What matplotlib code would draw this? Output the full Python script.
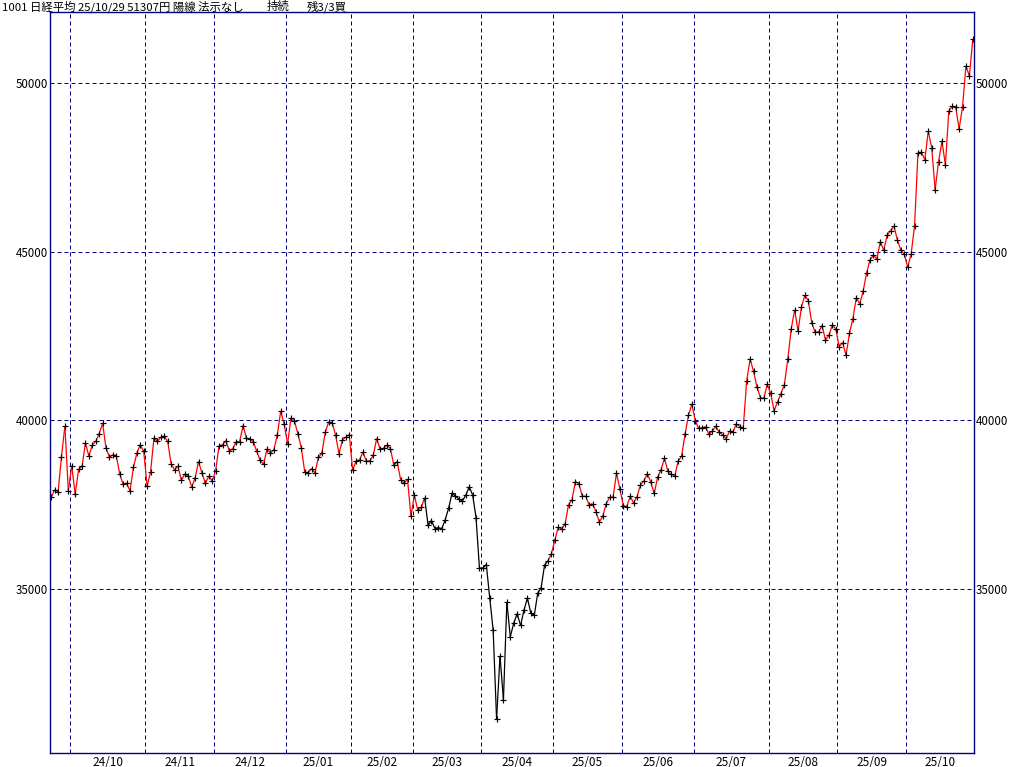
import numpy as np
import pandas as pd
import matplotlib
matplotlib.use("Agg")
import matplotlib.pyplot as plt
from matplotlib.collections import LineCollection

plt.rcParams['font.family'] = ['Noto Sans CJK JP', 'DejaVu Sans']

# ---- data: Nikkei 225 daily closes (trading days) ----
days_2024_09 = [20, 24, 25, 26, 27, 30]
close_2024_09 = [37724, 37940, 37870, 38926, 39830, 37920]
days_2024_10 = [1, 2, 3, 4, 7, 8, 9, 10, 11, 15, 16, 17, 18, 21, 22, 23, 24, 25, 28, 29, 30, 31]
close_2024_10 = [38652, 37809, 38552, 38636, 39333, 38938, 39278, 39381, 39606, 39911, 39181,
                 38911, 38982, 38955, 38412, 38105, 38143, 37914, 38606, 39028, 39277, 39081]
days_2024_11 = [1, 5, 6, 7, 8, 11, 12, 13, 14, 15, 18, 19, 20, 21, 22, 25, 26, 27, 28, 29]
close_2024_11 = [38054, 38475, 39481, 39382, 39501, 39534, 39377, 38722, 38536, 38643,
                 38221, 38415, 38353, 38027, 38284, 38781, 38443, 38135, 38350, 38208]
days_2024_12 = [2, 3, 4, 5, 6, 9, 10, 11, 12, 13, 16, 17, 18, 19, 20, 23, 24, 25, 26, 27, 30]
close_2024_12 = [38514, 39249, 39277, 39396, 39092, 39161, 39368, 39373, 39850, 39471, 39458,
                 39365, 39082, 38814, 38702, 39161, 39037, 39131, 39569, 40282, 39895]
days_2025_01 = [6, 7, 8, 9, 10, 14, 15, 16, 17, 20, 21, 22, 23, 24, 27, 28, 29, 30, 31]
close_2025_01 = [39308, 40084, 39982, 39606, 39191, 38475, 38445, 38573, 38452, 38903,
                 39028, 39647, 39959, 39932, 39566, 39017, 39415, 39514, 39573]
days_2025_02 = [3, 4, 5, 6, 7, 10, 12, 13, 14, 17, 18, 19, 20, 21, 25, 26, 27, 28]
close_2025_02 = [38521, 38799, 38832, 39067, 38787, 38801, 38964, 39462, 39150,
                 39175, 39270, 39165, 38679, 38777, 38238, 38143, 38256, 37156]
days_2025_03 = [3, 4, 5, 6, 7, 10, 11, 12, 13, 14, 17, 18, 19, 21, 24, 25, 26, 27, 28, 31]
close_2025_03 = [37786, 37332, 37418, 37705, 36887, 37028, 36793, 36820, 36790, 37053,
                 37397, 37846, 37752, 37678, 37608, 37780, 38028, 37800, 37120, 35618]
days_2025_04 = [1, 2, 3, 4, 7, 8, 9, 10, 11, 14, 15, 16, 17, 18, 21, 22, 23, 24, 25, 28, 30]
close_2025_04 = [35625, 35726, 34736, 33781, 31137, 33013, 31715, 34609, 33586, 33983, 34268,
                 33920, 34377, 34730, 34280, 34221, 34869, 35040, 35706, 35840, 36045]
days_2025_05 = [1, 2, 7, 8, 9, 12, 13, 14, 15, 16, 19, 20, 21, 22, 23, 26, 27, 28, 29, 30]
close_2025_05 = [36452, 36831, 36780, 36929, 37504, 37644, 38184, 38128, 37755, 37754,
                 37499, 37529, 37299, 36986, 37160, 37532, 37724, 37722, 38433, 37965]
days_2025_06 = [2, 3, 4, 5, 6, 9, 10, 11, 12, 13, 16, 17, 18, 19, 20, 23, 24, 25, 26, 27, 30]
close_2025_06 = [37471, 37447, 37747, 37554, 37742, 38089, 38212, 38421, 38174, 37835, 38312,
                 38537, 38885, 38489, 38403, 38355, 38791, 38942, 39585, 40151, 40487]
days_2025_07 = [1, 2, 3, 4, 7, 8, 9, 10, 11, 14, 15, 16, 17, 18, 22, 23, 24, 25, 28, 29, 30, 31]
close_2025_07 = [39986, 39763, 39786, 39811, 39588, 39689, 39822, 39646, 39570, 39460, 39679,
                 39664, 39901, 39819, 39775, 41171, 41826, 41456, 40998, 40675, 40655, 41070]
days_2025_08 = [1, 4, 5, 6, 7, 8, 12, 13, 14, 15, 18, 19, 20, 21, 22, 25, 26, 27, 28, 29]
close_2025_08 = [40800, 40291, 40550, 40795, 41059, 41820, 42718, 43275, 42650, 43378,
                 43714, 43547, 42889, 42610, 42633, 42808, 42394, 42521, 42829, 42718]
days_2025_09 = [1, 2, 3, 4, 5, 8, 9, 10, 11, 12, 16, 17, 18, 19, 22, 24, 25, 26, 29, 30]
close_2025_09 = [42189, 42310, 41939, 42581, 43019, 43644, 43460, 43838, 44373, 44768,
                 44903, 44790, 45303, 45046, 45494, 45630, 45755, 45355, 45044, 44933]
days_2025_10 = [1, 2, 3, 6, 7, 8, 9, 10, 14, 15, 16, 17, 20, 21, 22, 23, 24, 27, 28, 29]
close_2025_10 = [44550, 44937, 45770, 47945, 47951, 47735, 48580, 48089, 46848, 47672,
                 48278, 47582, 49186, 49316, 49308, 48642, 49300, 50512, 50220, 51307]

month_keys = ["2024-09", "2024-10", "2024-11", "2024-12", "2025-01", "2025-02", "2025-03",
              "2025-04", "2025-05", "2025-06", "2025-07", "2025-08", "2025-09", "2025-10"]
month_labels = ["", "24/10", "24/11", "24/12", "25/01", "25/02", "25/03",
                "25/04", "25/05", "25/06", "25/07", "25/08", "25/09", "25/10"]
y_ticks = [35000, 40000, 45000, 50000]

# signal period drawn in black (otherwise red)
black_start = "2025-03-07"
black_end = "2025-04-28"

title_main = "1001 日経平均 25/10/29 51307円 陽線 法示なし"
title_mid = "持続"
title_right = "残3/3買"

# ---- assemble ----
month_days = [days_2024_09, days_2024_10, days_2024_11, days_2024_12, days_2025_01, days_2025_02,
              days_2025_03, days_2025_04, days_2025_05, days_2025_06, days_2025_07, days_2025_08,
              days_2025_09, days_2025_10]
month_close = [close_2024_09, close_2024_10, close_2024_11, close_2024_12, close_2025_01, close_2025_02,
               close_2025_03, close_2025_04, close_2025_05, close_2025_06, close_2025_07, close_2025_08,
               close_2025_09, close_2025_10]

date_str, closes, month_id = [], [], []
for m, (key, dlist, clist) in enumerate(zip(month_keys, month_days, month_close)):
    for d, c in zip(dlist, clist):
        date_str.append(f"{key}-{d:02d}")
        closes.append(c)
        month_id.append(m)
dates = pd.to_datetime(date_str)
closes = np.array(closes, dtype=float)
month_id = np.array(month_id)
x = np.arange(len(closes))
is_black = (dates >= pd.Timestamp(black_start)) & (dates <= pd.Timestamp(black_end))

NAVY = "#000080"
PX = 0.72  # one pixel in points at 100 dpi

fig = plt.figure(figsize=(10.24, 7.67), dpi=100)
ax = fig.add_axes([50 / 1024, 1 - 753 / 767, 924 / 1024, 741 / 767])
ax.set_xlim(-0.35, len(x) - 1 + 0.35)
ax.set_ylim(30136, 52115)

# grid
for yv in y_ticks:
    ax.axhline(yv, color=NAVY, lw=PX, dashes=(4, 3), zorder=1)
bounds = [i - 0.5 for i in range(1, len(x)) if month_id[i] != month_id[i - 1]]
for b in bounds:
    ax.axvline(b, color=NAVY, lw=PX, dashes=(4, 3), zorder=1)

# price line, coloured by signal state
pts = np.column_stack([x, closes])
segs = np.stack([pts[:-1], pts[1:]], axis=1)
cols = ["black" if is_black[i + 1] else "red" for i in range(len(x) - 1)]
lc = LineCollection(segs, colors=cols, linewidths=0.9, zorder=2)
ax.add_collection(lc)
ax.plot(x, closes, linestyle="none", marker="+", ms=3.8, mew=0.85, color="black", zorder=3)

# ticks
centers, labs = [], []
for m, lab in enumerate(month_labels):
    if lab:
        centers.append(x[month_id == m].mean())
        labs.append(lab)
ax.set_xticks(centers)
ax.set_xticklabels(labs)
ax.set_yticks(y_ticks)
ax.set_yticklabels([str(v) for v in y_ticks])
ax.tick_params(axis="x", length=0, pad=2, labelsize=8.5, colors="black")
ax.tick_params(axis="y", length=0, pad=1.5, labelsize=8.3, colors="black",
               labelleft=True, labelright=True)
for s in ax.spines.values():
    s.set_color(NAVY)
    s.set_linewidth(1.0)

# header
fig.text(2 / 1024, 1 - 0.5 / 767, title_main, ha="left", va="top", fontsize=8.2)
fig.text(267 / 1024, 1 - 0.5 / 767, title_mid, ha="left", va="top", fontsize=8.2)
fig.text(307 / 1024, 1 - 0.5 / 767, title_right, ha="left", va="top", fontsize=8.2)

fig.savefig("out.png", dpi=100)
